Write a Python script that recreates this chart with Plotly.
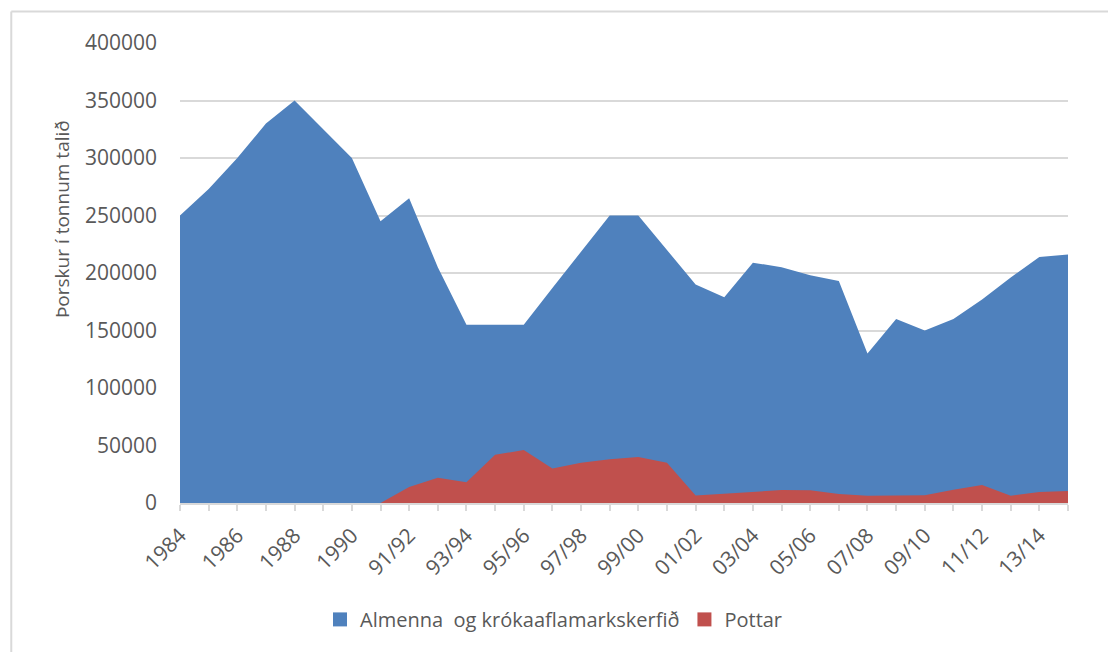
import plotly.graph_objects as go

# Fishing years: calendar years up to 1990, then split fishing years
categories = ["1984", "1985", "1986", "1987", "1988", "1989", "1990",
              "90/91", "91/92", "92/93", "93/94", "94/95", "95/96", "96/97",
              "97/98", "98/99", "99/00", "00/01", "01/02", "02/03", "03/04",
              "04/05", "05/06", "06/07", "07/08", "08/09", "09/10", "10/11",
              "11/12", "12/13", "13/14", "14/15"]

almenna = [250000, 273000, 300000, 330000, 350000, 325000, 300000,
           245000, 265000, 205000, 155000, 155000, 155000, 187000,
           218000, 250000, 250000, 220000, 190000, 179000, 209000,
           205000, 198000, 193000, 130000, 160000, 150000, 160000,
           177000, 196000, 214000, 216000]

pottar = [0, 0, 0, 0, 0, 0, 0,
          0, 14000, 22000, 18000, 42000, 46000, 30000,
          35000, 38000, 40000, 35000, 6500, 8200, 10000,
          11300, 11000, 7800, 6400, 6400, 6700, 11600,
          15700, 6400, 9600, 10400]

series_names = ["Almenna  og krókaaflamarkskerfið", "Pottar"]
series_colors = ["#4F81BD", "#C0504D"]

y_ticks = [0, 50000, 100000, 150000, 200000, 250000, 300000, 350000, 400000]

FONT = "Open Sans"
TEXT_COLOR = "#595959"
GRID = "#D9D9D9"

x = list(range(len(categories)))

fig = go.Figure()
for values, name, color in zip([almenna, pottar], series_names, series_colors):
    fig.add_trace(go.Scatter(
        x=x, y=values, name=name, showlegend=False,
        mode="lines", line=dict(width=0, color=color),
        fill="tozeroy", fillcolor=color, hoverinfo="x+y+name",
    ))

# Square legend keys
for name, color in zip(series_names, series_colors):
    fig.add_trace(go.Scatter(
        x=[None], y=[None], name=name, mode="markers",
        marker=dict(symbol="square", size=14, color=color),
    ))

fig.update_layout(
    width=1108, height=652,
    margin=dict(l=180, r=40, t=43, b=149),
    paper_bgcolor="white", plot_bgcolor="white",
    font=dict(family=FONT, color=TEXT_COLOR, size=21),
    showlegend=True,
    legend=dict(
        orientation="h", xref="container", yref="container",
        x=0.5, xanchor="center", y=0.05, yanchor="middle",
        font=dict(size=20, color=TEXT_COLOR), itemwidth=30,
        tracegroupgap=0,
    ),
    xaxis=dict(
        range=[0, len(categories) - 1],
        tickmode="array", tickvals=x[::2], ticktext=categories[::2],
        tickangle=-45, showgrid=False, zeroline=False,
        showline=True, linecolor=GRID, linewidth=2,
        ticks="outside", ticklen=6, tickcolor=GRID, tickwidth=2,
        minor=dict(tickmode="linear", tick0=0, dtick=1, ticks="outside",
                   ticklen=6, tickcolor=GRID, tickwidth=2, showgrid=False),
        tickfont=dict(size=21, color=TEXT_COLOR),
        ticklabelstandoff=4,
        fixedrange=True,
    ),
    yaxis=dict(
        range=[0, 400000], tickmode="array", tickvals=y_ticks,
        ticktext=[str(v) for v in y_ticks],
        showgrid=True, gridcolor=GRID, gridwidth=2,
        zeroline=False, showline=False, ticks="",
        tickfont=dict(size=21, color=TEXT_COLOR),
        ticklabelstandoff=22,
        fixedrange=True,
    ),
)

# Vertical axis title
fig.add_annotation(
    text="Þorskur í tonnum talið", textangle=-90,
    xref="paper", yref="paper", x=-0.133, y=0.617,
    xanchor="center", yanchor="middle", showarrow=False,
    font=dict(size=19, color=TEXT_COLOR, family=FONT),
)

# Chart frame (left and top edges)
fig.add_shape(type="line", xref="paper", yref="paper",
              x0=-0.19, x1=-0.19, y0=-1.0, y1=1.0685,
              line=dict(color=GRID, width=2))
fig.add_shape(type="line", xref="paper", yref="paper",
              x0=-0.19, x1=1.2, y0=1.0685, y1=1.0685,
              line=dict(color=GRID, width=2))

fig.write_html("out.html")
